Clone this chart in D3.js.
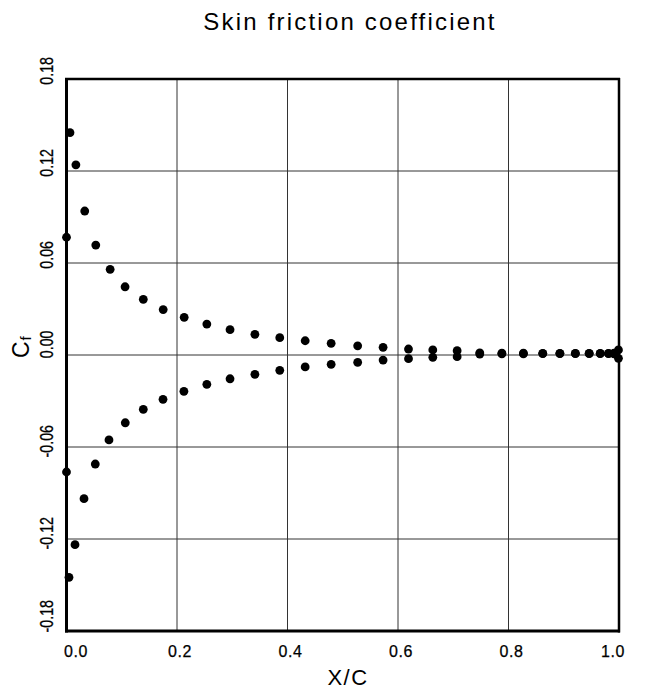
<!DOCTYPE html>
<html>
<head>
<meta charset="utf-8">
<script src="https://cdn.jsdelivr.net/npm/d3@7"></script>
<style>
  html, body { margin: 0; padding: 0; background: #fff; }
  svg { display: block; font-family: "Liberation Sans", Arial, Helvetica, sans-serif; }
</style>
</head>
<body>
<svg id="chart" width="654" height="690"></svg>
<script>
// ---- data ----
const title = "Skin friction coefficient";
const xLabel = "X/C";
const xTicks = [0.0, 0.2, 0.4, 0.6, 0.8, 1.0];
const xTickLabels = ["0.0", "0.2", "0.4", "0.6", "0.8", "1.0"];
const yTicks = [0.18, 0.12, 0.06, 0.0, -0.06, -0.12, -0.18];
const yTickLabels = ["0.18", "0.12", "0.06", "0.00", "-0.06", "-0.12", "-0.18"];

const xUpper = [0.000, 0.0063, 0.017, 0.033, 0.053, 0.079, 0.106, 0.139, 0.175, 0.213,
                0.254, 0.296, 0.341, 0.386, 0.432, 0.479, 0.527, 0.573, 0.619, 0.663,
                0.707, 0.748, 0.788, 0.827, 0.862, 0.893, 0.921, 0.946, 0.966, 0.981,
                0.991, 0.999];
const cfUpper = [0.0768, 0.145, 0.124, 0.0939, 0.0717, 0.0559, 0.0445, 0.0363, 0.0296, 0.0246,
                 0.0202, 0.0165, 0.0135, 0.0113, 0.0093, 0.0076, 0.0060, 0.0050, 0.0039, 0.0033,
                 0.0028, 0.0014, 0.0012, 0.0012, 0.0011, 0.0011, 0.0011, 0.0011, 0.0011, 0.0011,
                 0.0012, 0.0033];

const xLower = [0.000, 0.0045, 0.0154, 0.0317, 0.0521, 0.0769, 0.1064, 0.139, 0.1747, 0.2125,
                0.254, 0.296, 0.341, 0.386, 0.432, 0.479, 0.527, 0.573, 0.619, 0.663,
                0.707, 0.748, 0.788, 0.827, 0.862, 0.893, 0.921, 0.946, 0.966, 0.981,
                0.991, 0.999];
const cfLower = [-0.0763, -0.1450, -0.1237, -0.0937, -0.0711, -0.0554, -0.0442, -0.0354, -0.0289, -0.0237,
                 -0.0191, -0.0155, -0.0126, -0.0100, -0.0078, -0.0061, -0.0048, -0.0033, -0.0024, -0.0015,
                 -0.0011, 0.0006, 0.0008, 0.0008, 0.0009, 0.0009, 0.0009, 0.0009, 0.0009, 0.0009,
                 0.0008, -0.0022];

// ---- layout ----
const svg = d3.select("#chart");
const pL = 66.5, pR = 619, pT = 79, pB = 631;

const x = d3.scaleLinear().domain([0, 1]).range([pL, pR]);
const y = d3.scaleLinear().domain([-0.18, 0.18]).range([pB, pT]);

svg.append("rect").attr("width", 654).attr("height", 690).attr("fill", "#fff");

// grid
const grid = svg.append("g").attr("stroke", "#333").attr("stroke-width", 1);
grid.selectAll("line.v")
  .data(xTicks.filter(v => v > 0 && v < 1))
  .join("line")
  .attr("class", "v")
  .attr("x1", d => x(d)).attr("x2", d => x(d))
  .attr("y1", pT).attr("y2", pB);
grid.selectAll("line.h")
  .data(yTicks.filter(v => v < 0.18 && v > -0.18))
  .join("line")
  .attr("class", "h")
  .attr("y1", d => y(d)).attr("y2", d => y(d))
  .attr("x1", pL).attr("x2", pR);

// points
const upper = xUpper.map((v, i) => ({x: v, y: cfUpper[i]}));
const lower = xLower.map((v, i) => ({x: v, y: cfLower[i]}));
const pts = svg.append("g").attr("fill", "#000");
pts.selectAll("circle.u").data(upper).join("circle")
  .attr("class", "u")
  .attr("cx", d => x(d.x)).attr("cy", d => y(d.y)).attr("r", 4.4);
pts.selectAll("circle.l").data(lower).join("circle")
  .attr("class", "l")
  .attr("cx", d => x(d.x)).attr("cy", d => y(d.y)).attr("r", 4.4);

// frame
const frame = svg.append("g").attr("stroke", "#000").attr("fill", "none");
frame.append("line").attr("x1", pL).attr("x2", pL).attr("y1", pT - 1).attr("y2", pB + 1.5).attr("stroke-width", 3);
frame.append("line").attr("x1", pL - 1.5).attr("x2", pR + 1).attr("y1", pB).attr("y2", pB).attr("stroke-width", 3);
frame.append("line").attr("x1", pL - 1.5).attr("x2", pR + 1).attr("y1", pT).attr("y2", pT).attr("stroke-width", 2.5);
frame.append("line").attr("x1", pR).attr("x2", pR).attr("y1", pT - 1).attr("y2", pB + 1.5).attr("stroke-width", 2.5);

// x tick labels
svg.append("g").selectAll("text")
  .data(xTicks)
  .join("text")
  .attr("x", (d, i) => i === 0 ? x(d) - 2.5 : (i === xTicks.length - 1 ? x(d) + 6 : x(d) + 3))
  .attr("y", 657)
  .attr("text-anchor", (d, i) => i === 0 ? "start" : (i === xTicks.length - 1 ? "end" : "middle"))
  .attr("font-size", 16)
  .attr("letter-spacing", 0.6)
  .attr("fill", "#000")
  .attr("stroke", "#000").attr("stroke-width", 0.25)
  .text((d, i) => xTickLabels[i]);

// y tick labels (rotated)
svg.append("g").selectAll("text")
  .data(yTicks)
  .join("text")
  .attr("transform", (d, i) => {
    let off = 22;
    if (d === 0) off = 24.5;
    if (i === yTicks.length - 1) off = 31;
    return `translate(52.7,${y(d) - off}) rotate(-90) scale(0.95,1.22)`;
  })
  .attr("text-anchor", "end")
  .attr("font-size", 15)
  .attr("fill", "#000")
  .attr("stroke", "#000").attr("stroke-width", 0.25)
  .text((d, i) => yTickLabels[i]);

// y axis label C_f
const cf = svg.append("text")
  .attr("transform", "translate(28.8,358) rotate(-90)")
  .attr("font-size", 23)
  .attr("fill", "#000");
cf.append("tspan").text("C");
cf.append("tspan").attr("font-size", 15).attr("dy", 2).attr("dx", 1).text("f");

// x axis label
svg.append("text")
  .attr("x", 348).attr("y", 685)
  .attr("text-anchor", "middle")
  .attr("font-size", 22)
  .attr("letter-spacing", 1.5)
  .attr("fill", "#000")
  .text(xLabel);

// title
svg.append("text")
  .attr("x", 350).attr("y", 30)
  .attr("text-anchor", "middle")
  .attr("font-size", 24)
  .attr("letter-spacing", 2.2)
  .attr("fill", "#000")
  .text(title);
</script>
</body>
</html>
